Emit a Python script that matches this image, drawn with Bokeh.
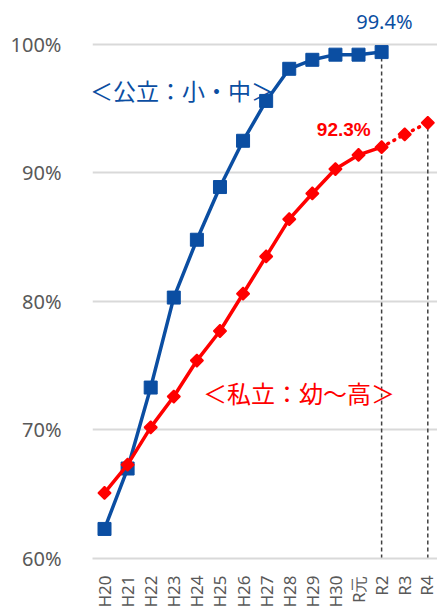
import math
from bokeh.plotting import figure
from bokeh.models import FixedTicker, Label, Range1d
from bokeh.embed import file_html
from bokeh.resources import INLINE

categories = ["H20", "H21", "H22", "H23", "H24", "H25", "H26", "H27",
              "H28", "H29", "H30", "R元", "R2", "R3", "R4"]
public_rate = [62.3, 67.0, 73.3, 80.3, 84.8, 88.9, 92.5, 95.6, 98.1, 98.8, 99.2, 99.2, 99.4]
private_rate = [65.1, 67.3, 70.2, 72.6, 75.4, 77.7, 80.6, 83.5, 86.4, 88.4, 90.3, 91.4, 92.0, 93.0, 93.9]
y_ticks = [60, 70, 80, 90, 100]
y_tick_labels = ["60%", "70%", "80%", "90%", "100%"]
actual_end = 12  # index of R2 (last actual value of private series)

BLUE = "#0B4EA2"
RED = "#FF0000"

p = figure(width=437, height=610, output_backend="svg", toolbar_location=None,
           x_range=Range1d(-0.52, 14.42), y_range=Range1d(60, 102.48),
           min_border_left=92, min_border_right=0, min_border_top=12, min_border_bottom=50)
p.outline_line_color = None
p.background_fill_color = "white"
p.border_fill_color = "white"

# axes
p.xaxis.ticker = FixedTicker(ticks=list(range(len(categories))))
p.xaxis.major_label_overrides = {i: c for i, c in enumerate(categories)}
p.xaxis.major_label_orientation = math.pi / 2
p.xaxis.major_tick_line_color = None
p.xaxis.minor_tick_line_color = None
p.xaxis.axis_line_color = "#D9D9D9"
p.xaxis.axis_line_width = 2
p.xaxis.major_label_text_font = "Noto Sans"
p.xaxis.major_label_text_font_size = "17px"
p.xaxis.major_label_text_color = "#595959"
p.xaxis.major_label_standoff = 11

p.yaxis.ticker = FixedTicker(ticks=y_ticks)
p.yaxis.major_label_overrides = {t: l for t, l in zip(y_ticks, y_tick_labels)}
p.yaxis.major_tick_line_color = None
p.yaxis.minor_tick_line_color = None
p.yaxis.axis_line_color = None
p.yaxis.major_label_text_font = "Noto Sans"
p.yaxis.major_label_text_font_size = "20px"
p.yaxis.major_label_text_color = "#595959"
p.yaxis.major_label_standoff = 25

p.xgrid.grid_line_color = None
p.ygrid.grid_line_color = "#D9D9D9"
p.ygrid.grid_line_width = 2
p.ygrid.ticker = FixedTicker(ticks=y_ticks)

# dashed drop lines
drop_x = [actual_end, len(private_rate) - 1]
drop_top = [public_rate[actual_end], private_rate[-1]]
p.segment(x0=drop_x, y0=[y_ticks[0]] * 2, x1=drop_x, y1=drop_top,
          line_color="#404040", line_width=1.5, line_dash="4 3")

# public series
xs_pub = list(range(len(public_rate)))
p.line(xs_pub, public_rate, line_color=BLUE, line_width=3.5)
p.scatter(xs_pub, public_rate, marker="square", size=13, fill_color=BLUE, line_color=BLUE)

# private series
xs_priv = list(range(len(private_rate)))
p.line(xs_priv[:actual_end + 1], private_rate[:actual_end + 1], line_color=RED, line_width=3.5)
p.line(xs_priv[actual_end:], private_rate[actual_end:], line_color=RED, line_width=3.5,
       line_dash="1 6", line_cap="round")
p.scatter(xs_priv, private_rate, marker="square", angle=math.pi / 4, size=9,
          fill_color=RED, line_color=RED, line_width=1.5)

# annotations
p.add_layout(Label(x=12.12, y=101.75, text="99.4%", text_color=BLUE, text_font="Noto Sans",
                   text_font_size="20px", text_align="center", text_baseline="middle"))
p.add_layout(Label(x=-0.63, y=96.45, text="＜公立：小・中＞", text_color=BLUE,
                   text_font="Noto Sans CJK JP", text_font_size="23px",
                   text_align="left", text_baseline="middle"))
p.add_layout(Label(x=10.36, y=93.35, text="92.3%", text_color=RED, text_font="Liberation Sans",
                   text_font_style="bold", text_font_size="19px",
                   text_align="center", text_baseline="middle"))
p.add_layout(Label(x=4.27, y=72.95, text="＜私立：幼～高＞", text_color=RED,
                   text_font="Noto Sans CJK JP", text_font_size="24px",
                   text_align="left", text_baseline="middle"))

open("out.html", "w").write(file_html(p, INLINE))
